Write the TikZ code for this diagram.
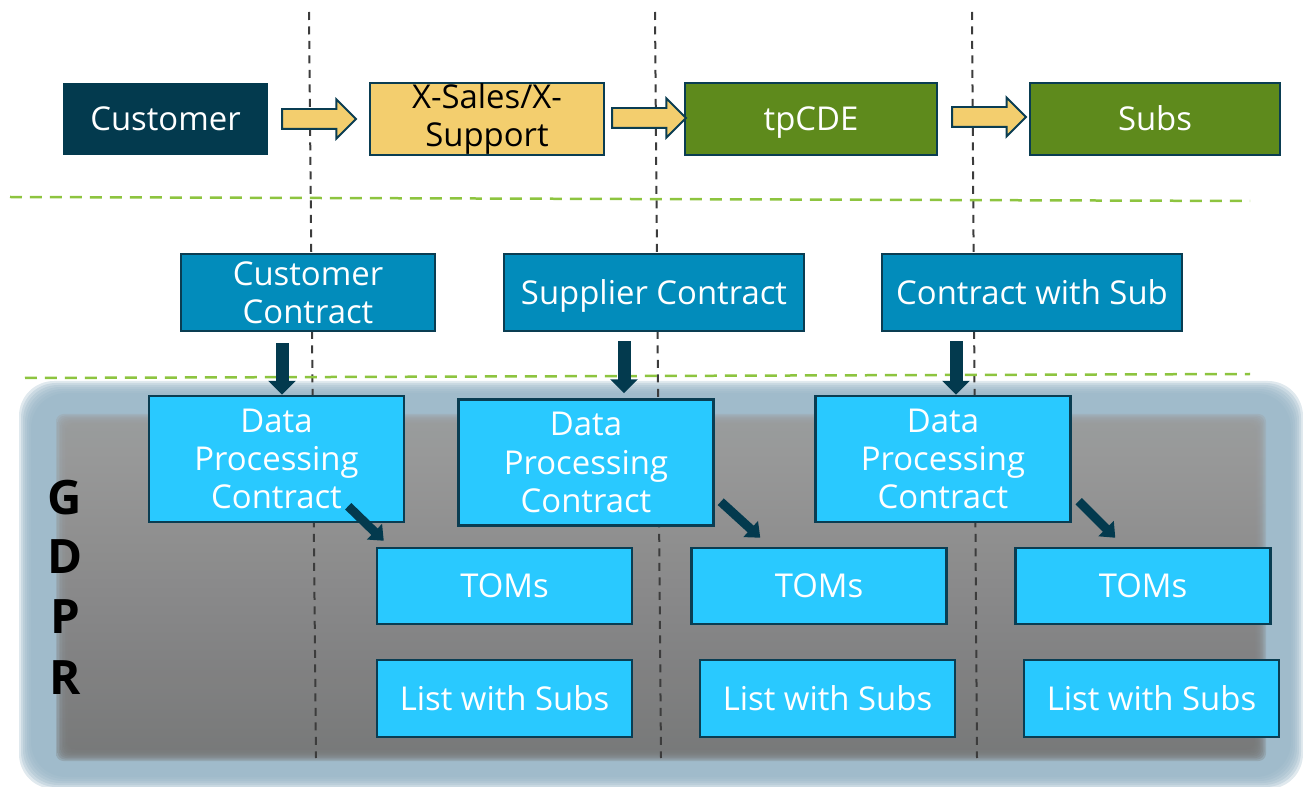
\documentclass[tikz,border=0pt]{standalone}
\usepackage{fontspec}
\setmainfont{Open Sans}
\usetikzlibrary{shapes.arrows,arrows.meta,positioning}

\definecolor{custnavy}{HTML}{033A4E}
\definecolor{boxline}{HTML}{0A3D52}
\definecolor{salesyellow}{HTML}{F3CE6E}
\definecolor{cdegreen}{HTML}{5E8A1C}
\definecolor{contrblue}{HTML}{028CBB}
\definecolor{dpccyan}{HTML}{29C9FF}
\definecolor{gdprglow}{HTML}{98B5C6}
\definecolor{gdprtop}{HTML}{9C9C9C}
\definecolor{gdprbot}{HTML}{777777}
\definecolor{sepgreen}{HTML}{8DC43F}
\definecolor{laneline}{HTML}{3C3C3C}

\tikzset{
  box/.style={draw=boxline, line width=0.05cm, inner sep=0pt, align=center,
    text=white, font=\fontsize{18.7}{21.8}\selectfont},
  oneline/.style={text height=13.4pt, text depth=0pt},
  actor/.style={box, minimum height=1.44cm},
  contr/.style={box, fill=contrblue, minimum height=1.54cm},
  dpc/.style={box, fill=dpccyan, minimum width=5.1cm, minimum height=2.52cm, text width=5cm},
  sub/.style={box, oneline, fill=dpccyan, minimum width=5.1cm},
  flow/.style={single arrow, draw=boxline, fill=salesyellow, line width=0.04cm,
    inner sep=0.18cm, single arrow head extend=0.19cm, minimum height=1.48cm},
  downarr/.style={draw=custnavy, line width=0.26cm, -{Triangle[width=0.54cm,length=0.28cm]}},
  diagarr/.style={draw=custnavy, line width=0.18cm, -{Triangle[width=0.42cm,length=0.26cm]}},
  lane/.style={draw=laneline, line width=0.04cm, dash pattern=on 0.16cm off 0.13cm},
  sep/.style={draw=sepgreen, line width=0.05cm, dash pattern=on 0.24cm off 0.16cm}
}

\begin{document}
\begin{tikzpicture}[x=0.02cm, y=-0.02cm]
  \useasboundingbox (0,0) rectangle (1303,787);

  % GDPR area, soft edges from stacked layers
  \foreach \i in {0,...,6}
    \fill[gdprglow, opacity=0.3, rounded corners=0.7cm]
      (19+2*\i,381+2*\i) rectangle (1303-2*\i,789-2*\i);
  \foreach \i in {0,...,8}
    \shade[top color=gdprtop, bottom color=gdprbot, opacity=0.3, rounded corners=0.15cm]
      (56+1.5*\i,414+1.5*\i) rectangle (1266-1.5*\i,761-1.5*\i);

  % lanes and separators
  \draw[lane] (309,12) -- (316,758);
  \draw[lane] (655,12) -- (661,758);
  \draw[lane] (972,12) -- (977,758);
  \draw[sep] (10,197) -- (1250,201);
  \draw[sep] (25,378) -- (1250,374);

  % actors
  \node[actor, oneline, fill=custnavy, draw=none, minimum width=4.1cm] (cust) at (165.5,119) {Customer};
  \node[actor, fill=salesyellow, text=black, minimum width=4.68cm, text width=4.5cm] (xsales) at (487,119) {X-Sales/X-\\Support};
  \node[actor, oneline, fill=cdegreen, minimum width=5.04cm] (tpcde) at (811,119) {tpCDE};
  \node[actor, oneline, fill=cdegreen, minimum width=5cm] (subs) at (1155,119) {Subs};
  \node[flow] (f1) at (314,119) {};
  \node[flow] (f2) at (644,118) {};
  \node[flow] (f3) at (984,117) {};

  % contracts
  \node[contr, minimum width=5.08cm] (cc) at (308,292.5) {Customer\\Contract};
  \node[contr, oneline, minimum width=6cm] (sc) at (654,292.5) {Supplier Contract};
  \node[contr, oneline, minimum width=6cm] (cws) at (1032,292.5) {Contract with Sub};

  \node[dpc] (dpc1) at (276.5,459) {Data\\Processing\\Contract};
  \node[dpc] (dpc2) at (586,462.5) {Data\\Processing\\Contract};
  \node[dpc] (dpc3) at (943,459) {Data\\Processing\\Contract};

  \node[sub, minimum height=1.52cm] (toms1) at (504.5,586) {TOMs};
  \node[sub, minimum height=1.52cm] (toms2) at (819,586) {TOMs};
  \node[sub, minimum height=1.52cm] (toms3) at (1143,586) {TOMs};
  \node[sub, minimum height=1.54cm] (list1) at (504.5,698.5) {List with Subs};
  \node[sub, minimum height=1.54cm] (list2) at (827.5,698.5) {List with Subs};
  \node[sub, minimum height=1.54cm] (list3) at (1151.5,698.5) {List with Subs};

  \draw[downarr] ([shift={(-26,11)}]cc.south) -- ([shift={(-26,0)}]cc.south |- dpc1.north);
  \draw[downarr] ([shift={(-30,9)}]sc.south) -- ([shift={(-30,-5)}]sc.south |- dpc2.north);
  \draw[downarr] ([shift={(-76,9)}]cws.south) -- ([shift={(-76,0)}]cws.south |- dpc3.north);

  \draw[diagarr] ([shift={(-57,-17)}]dpc1.south east) -- ([shift={(8,-6)}]toms1.north west);
  \draw[diagarr] ([shift={(6,-25)}]dpc2.south east) -- ([shift={(70,-9)}]toms2.north west);
  \draw[diagarr] ([shift={(7,-22)}]dpc3.south east) -- ([shift={(101,-9)}]toms3.north west);

  % GDPR letters
  \foreach \l/\y in {G/498,D/557,P/617,R/678}
    \node[font=\fontsize{27}{27}\selectfont\bfseries] (gdpr\l) at (65,\y) {\l};
\end{tikzpicture}
\end{document}
